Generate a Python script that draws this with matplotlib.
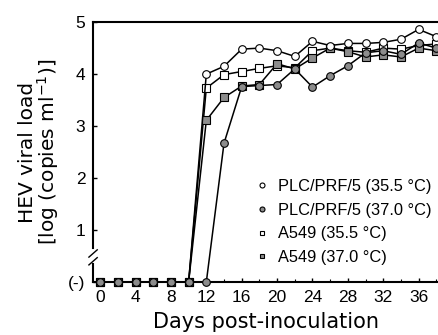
import matplotlib
matplotlib.use("Agg")
import matplotlib.pyplot as plt
import matplotlib.transforms as mtransforms
from matplotlib.ticker import MultipleLocator

plt.rcParams['font.family'] = ['Liberation Sans', 'DejaVu Sans']

days = [0, 2, 4, 6, 8, 10, 12, 14, 16, 18, 20, 22, 24, 26, 28, 30, 32, 34, 36, 38]
plc_355 = [0, 0, 0, 0, 0, 0, 4.00, 4.15, 4.48, 4.50, 4.45, 4.34, 4.63, 4.55, 4.59, 4.59, 4.61, 4.67, 4.86, 4.72]
plc_370 = [0, 0, 0, 0, 0, 0, 0, 2.67, 3.76, 3.78, 3.80, 4.10, 3.75, 3.97, 4.16, 4.41, 4.45, 4.38, 4.60, 4.50]
a549_355 = [0, 0, 0, 0, 0, 0, 3.73, 3.99, 4.05, 4.11, 4.16, 4.12, 4.45, 4.50, 4.45, 4.42, 4.50, 4.48, 4.55, 4.58]
a549_370 = [0, 0, 0, 0, 0, 0, 3.11, 3.55, 3.77, 3.80, 4.20, 4.10, 4.31, 4.50, 4.43, 4.33, 4.37, 4.33, 4.50, 4.45]

labels = ['PLC/PRF/5 (35.5 °C)', 'PLC/PRF/5 (37.0 °C)', 'A549 (35.5 °C)', 'A549 (37.0 °C)']
yticks = [0, 1, 2, 3, 4, 5]
yticklabels = ['(-)', '1', '2', '3', '4', '5']
xticks = [0, 4, 8, 12, 16, 20, 24, 28, 32, 36]

gray = '#8c8c8c'
fig = plt.figure(figsize=(4.39, 3.35), dpi=100)
ax = fig.add_axes([0.212, 0.158, 0.788, 0.776])

styles = [
    dict(marker='o', mfc='white', zorder=5),
    dict(marker='o', mfc=gray, zorder=6),
    dict(marker='s', mfc='white', zorder=3),
    dict(marker='s', mfc=gray, zorder=4),
]
series = [plc_355, plc_370, a549_355, a549_370]
for s, st, lab in zip(series, styles, labels):
    ax.plot(days, s, color='black', lw=1.1, mec='black', mew=0.8, ms=5.5,
            clip_on=False, label=lab, **st)

ax.set_xlim(-0.8, 38.3)
ax.set_ylim(0, 5)
ax.set_yticks(yticks)
ax.set_yticklabels(yticklabels)
ax.set_xticks(xticks)
ax.xaxis.set_minor_locator(MultipleLocator(2))
ax.tick_params(axis='y', which='major', direction='in', length=3, width=1, labelsize=12.5, pad=5.5)
ax.tick_params(axis='x', which='major', direction='in', length=3, width=1, labelsize=12.5, pad=6)
ax.tick_params(axis='x', which='minor', direction='in', length=2, width=0.8)

ax.spines['right'].set_visible(False)
for sp in ['left', 'bottom', 'top']:
    ax.spines[sp].set_linewidth(1.5)
ax.spines['left'].set_bounds(0.65, 5)

# y-axis break
trans = mtransforms.blended_transform_factory(ax.transAxes, ax.transData)
ax.plot([0, 0], [0, 0.34], color='black', lw=1.5, transform=trans, clip_on=False)
for yb in [0.40, 0.55]:
    ax.plot([-0.012, 0.012], [yb - 0.07, yb + 0.07], color='black', lw=1, transform=trans, clip_on=False)

ax.set_xlabel('Days post-inoculation', fontsize=15, family='DejaVu Sans', labelpad=5)
ax.set_ylabel('HEV viral load\n[log (copies ml$^{-1}$)]', fontsize=14.5, family='DejaVu Sans',
              linespacing=0.92)
ax.yaxis.set_label_coords(-0.092, 0.5)

leg = ax.legend(loc='lower right', bbox_to_anchor=(1.002, 0.035), frameon=False, fontsize=11.8,
                markerscale=0.65, handlelength=0.8, handletextpad=0.6, labelspacing=0.52,
                borderpad=0)
for h in leg.legend_handles:
    h.set_linestyle('none')

fig.savefig('out.png', dpi=100)
